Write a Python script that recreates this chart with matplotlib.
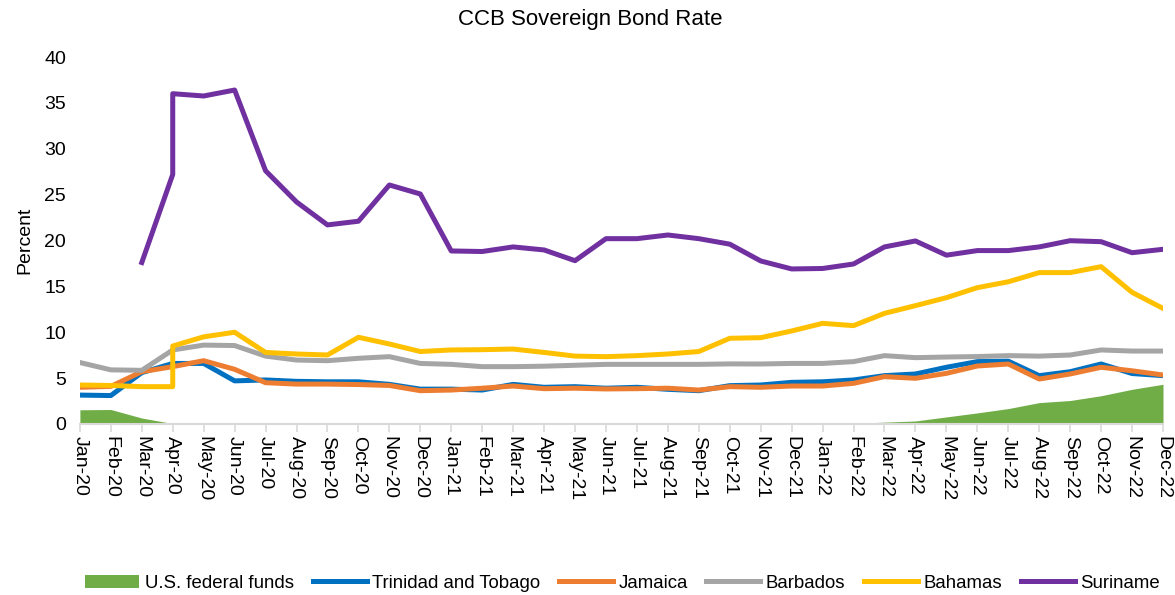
import matplotlib.pyplot as plt
import numpy as np

plt.rcParams['font.family'] = ['Liberation Sans', 'DejaVu Sans']

months = ['Jan-20', 'Feb-20', 'Mar-20', 'Apr-20', 'May-20', 'Jun-20', 'Jul-20', 'Aug-20',
          'Sep-20', 'Oct-20', 'Nov-20', 'Dec-20', 'Jan-21', 'Feb-21', 'Mar-21', 'Apr-21',
          'May-21', 'Jun-21', 'Jul-21', 'Aug-21', 'Sep-21', 'Oct-21', 'Nov-21', 'Dec-21',
          'Jan-22', 'Feb-22', 'Mar-22', 'Apr-22', 'May-22', 'Jun-22', 'Jul-22', 'Aug-22',
          'Sep-22', 'Oct-22', 'Nov-22', 'Dec-22']

fed_funds = [1.55, 1.58, 0.65, 0.05, 0.05, 0.08, 0.09, 0.10, 0.09, 0.09, 0.09, 0.09,
             0.09, 0.08, 0.07, 0.07, 0.06, 0.08, 0.10, 0.09, 0.08, 0.08, 0.08, 0.08,
             0.08, 0.08, 0.20, 0.33, 0.77, 1.21, 1.68, 2.33, 2.56, 3.08, 3.78, 4.33]

trinidad = [3.15, 3.1, 5.6, 6.6, 6.6, 4.7, 4.8, 4.65, 4.6, 4.6, 4.32, 3.8,
            3.8, 3.7, 4.32, 4.0, 4.07, 3.9, 4.0, 3.78, 3.63, 4.18, 4.25, 4.54,
            4.6, 4.8, 5.27, 5.45, 6.18, 6.8, 6.85, 5.27, 5.7, 6.54, 5.5, 5.27]

jamaica = [4.0, 4.1, 5.7, 6.25, 6.9, 5.96, 4.5, 4.35, 4.35, 4.3, 4.2, 3.63,
           3.7, 3.9, 4.14, 3.85, 3.9, 3.82, 3.85, 3.9, 3.7, 4.07, 4.0, 4.14,
           4.14, 4.43, 5.16, 4.98, 5.52, 6.32, 6.54, 4.9, 5.45, 6.18, 5.8, 5.34]

barbados = [6.7, 5.9, 5.85, 8.07, 8.6, 8.55, 7.4, 6.97, 6.9, 7.16, 7.34, 6.6,
            6.5, 6.25, 6.25, 6.3, 6.4, 6.5, 6.5, 6.5, 6.5, 6.55, 6.54, 6.6,
            6.6, 6.8, 7.45, 7.23, 7.3, 7.35, 7.45, 7.4, 7.52, 8.07, 7.95, 7.95]

# Bahamas and Suriname have two readings in Apr-20 (start and end of month)
bahamas_x = months[:4] + months[3:]
bahamas = [4.25, 4.2, 4.07, 4.07, 8.5, 9.5, 10.0, 7.8, 7.63, 7.52, 9.45, 8.72, 7.9,
           8.07, 8.1, 8.17, 7.8, 7.4, 7.34, 7.45, 7.63, 7.9, 9.34, 9.41, 10.14,
           10.97, 10.72, 12.06, 12.9, 13.77, 14.86, 15.5, 16.5, 16.5, 17.15, 14.35, 12.6]

suriname_x = months[2:4] + months[3:]
suriname = [17.6, 27.2, 36.0, 35.75, 36.4, 27.6, 24.2, 21.7, 22.1, 26.05, 25.07,
            18.86, 18.8, 19.3, 18.97, 17.8, 20.2, 20.2, 20.6, 20.2, 19.6, 17.77, 16.9,
            16.95, 17.44, 19.3, 19.95, 18.4, 18.9, 18.9, 19.3, 19.98, 19.87, 18.67, 19.04]

xpos = {m: i for i, m in enumerate(months)}
x = np.arange(len(months))

fig = plt.figure(figsize=(11.75, 5.95), dpi=100)
ax = fig.add_axes([0.068, 0.2874, 0.9218, 0.6168])

lw = 3.6
ax.fill_between(x, fed_funds, 0, color='#70AD47', lw=0, label='U.S. federal funds')
ax.plot(x, trinidad, color='#0070C0', lw=lw, label='Trinidad and Tobago')
ax.plot(x, jamaica, color='#ED7D31', lw=lw, label='Jamaica')
ax.plot(x, barbados, color='#A5A5A5', lw=lw, label='Barbados')
ax.plot([xpos[m] for m in bahamas_x], bahamas, color='#FFC000', lw=lw, label='Bahamas')
ax.plot([xpos[m] for m in suriname_x], suriname, color='#7030A0', lw=lw, label='Suriname')

ax.set_xlim(0, len(months) - 1)
ax.set_ylim(0, 40)
ax.set_yticks(np.arange(0, 41, 5))
ax.set_xticks(x)
ax.set_xticklabels(months, rotation=270, fontsize=14)
ax.tick_params(axis='y', length=0, labelsize=14, pad=10)
ax.tick_params(axis='x', length=6, color='#D9D9D9', width=1.2, pad=3)
for side in ['left', 'right', 'top']:
    ax.spines[side].set_visible(False)
ax.spines['bottom'].set_color('#D9D9D9')
ax.spines['bottom'].set_linewidth(1.5)

ax.set_ylabel('Percent', fontsize=14, labelpad=8)
fig.text(0.502, 0.968, 'CCB Sovereign Bond Rate', ha='center', va='center', fontsize=16)

fig.legend(loc='center', bbox_to_anchor=(0.530, 0.02), ncol=6, frameon=False,
           fontsize=13.4, handlelength=2.9, handletextpad=0.3, columnspacing=1.0)

plt.savefig('out.png', dpi=100)
plt.close()
